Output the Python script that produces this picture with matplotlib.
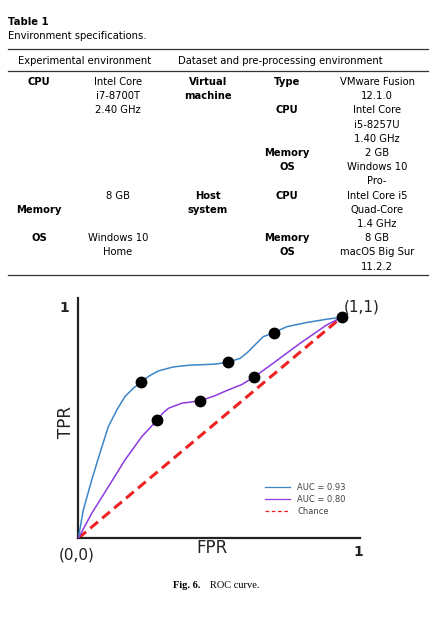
import matplotlib
matplotlib.use("Agg")
import matplotlib.pyplot as plt
from matplotlib.lines import Line2D

# ROC curve points (FPR, TPR)
blue_fpr = [0.0, 0.019, 0.051, 0.082, 0.114, 0.146, 0.177, 0.209, 0.238, 0.270,
            0.304, 0.360, 0.420, 0.462, 0.520, 0.570, 0.614, 0.640, 0.664, 0.702,
            0.743, 0.791, 0.867, 0.943, 1.0]
blue_tpr = [0.0, 0.128, 0.264, 0.385, 0.505, 0.580, 0.641, 0.679, 0.706, 0.735,
            0.757, 0.775, 0.783, 0.785, 0.788, 0.797, 0.814, 0.838, 0.867, 0.912,
            0.930, 0.957, 0.976, 0.991, 1.0]
purple_fpr = [0.0, 0.051, 0.114, 0.177, 0.241, 0.300, 0.320, 0.342, 0.393, 0.462,
              0.519, 0.563, 0.620, 0.667, 0.740, 0.842, 0.943, 1.0]
purple_tpr = [0.0, 0.113, 0.233, 0.354, 0.460, 0.535, 0.565, 0.588, 0.611, 0.622,
              0.645, 0.668, 0.695, 0.729, 0.792, 0.882, 0.965, 1.0]
chance = [0.0, 1.0]

# highlighted thresholds
dot_fpr = [0.238, 0.570, 0.743, 1.0, 0.300, 0.462, 0.667]
dot_tpr = [0.706, 0.797, 0.930, 1.0, 0.535, 0.622, 0.729]

legend_labels = ['AUC = 0.93', 'AUC = 0.80', 'Chance']

# table contents: (text, line number)
col1 = [('CPU', 0), ('Memory', 9), ('OS', 11)]
col2 = [('Intel Core', 0), ('i7-8700T', 1), ('2.40 GHz', 2), ('8 GB', 8),
        ('Windows 10', 11), ('Home', 12)]
col3 = [('Virtual', 0), ('machine', 1), ('Host', 8), ('system', 9)]
col4 = [('Type', 0), ('CPU', 2), ('Memory', 5), ('OS', 6), ('CPU', 8),
        ('Memory', 11), ('OS', 12)]
col5 = [('VMware Fusion', 0), ('12.1.0', 1), ('Intel Core', 2), ('i5-8257U', 3),
        ('1.40 GHz', 4), ('2 GB', 5), ('Windows 10', 6), ('Pro-', 7),
        ('Intel Core i5', 8), ('Quad-Core', 9), ('1.4 GHz', 10), ('8 GB', 11),
        ('macOS Big Sur', 12), ('11.2.2', 13)]

W, H = 445, 618
fig = plt.figure(figsize=(W / 100, H / 100), dpi=100)
fig.patch.set_facecolor('white')

# page axes in pixel coordinates for the table and captions
pg = fig.add_axes([0, 0, 1, 1])
pg.set_xlim(0, W)
pg.set_ylim(H, 0)
pg.axis('off')

fs = 7.2
pg.text(8, 22, 'Table 1', fontsize=7.2, fontweight='bold', va='center')
pg.text(8, 36, 'Environment specifications.', fontsize=fs, va='center')
for yy in [49, 71, 275]:
    pg.plot([8, 428], [yy, yy], color='#333333', lw=0.9)
pg.text(85, 60.5, 'Experimental environment', fontsize=fs, ha='center', va='center')
pg.text(280, 60.5, 'Dataset and pre-processing environment', fontsize=fs,
        ha='center', va='center')

cols = [(39, col1, 'bold'), (118, col2, 'normal'), (208, col3, 'bold'),
        (287, col4, 'bold'), (377, col5, 'normal')]
for cx, items, wt in cols:
    for txt, ln in items:
        pg.text(cx, 82 + ln * 14.2, txt, fontsize=fs, fontweight=wt,
                ha='center', va='center')

pg.text(173, 585, 'Fig. 6.', fontsize=7.5, fontweight='bold', family='Liberation Serif',
        ha='left', va='center')
pg.text(210, 585, 'ROC curve.', fontsize=7.5, family='Liberation Serif',
        ha='left', va='center')

# ROC plot
ax = fig.add_axes([78.3 / W, (H - 538.3) / H, 281.8 / W, 240.3 / H])
ax.set_xlim(0, 1.07)
ax.set_ylim(0, 1.087)
ax.patch.set_alpha(0)
for s in ['top', 'right']:
    ax.spines[s].set_visible(False)
for s in ['left', 'bottom']:
    ax.spines[s].set_linewidth(1.6)
    ax.spines[s].set_color('#222222')
ax.set_xticks([])
ax.set_yticks([])

ax.plot(chance, chance, color='#ee2222', lw=2.2, ls=(0, (3.3, 1.8)), zorder=2)
ax.plot(blue_fpr, blue_tpr, color='#3a86c8', lw=1.1, zorder=3,
        solid_joinstyle='round')
ax.plot(purple_fpr, purple_tpr, color='#8e3ae0', lw=1.1, zorder=3,
        solid_joinstyle='round')
ax.plot(dot_fpr, dot_tpr, 'o', color='black', markersize=7.5, zorder=4)

handles = [Line2D([], [], color='#3a86c8', lw=0.9),
           Line2D([], [], color='#8e3ae0', lw=0.9),
           Line2D([], [], color='#ee2222', lw=0.9, ls=(0, (3, 2)))]
ax.legend(handles, legend_labels, loc='lower right', bbox_to_anchor=(0.975, 0.06),
          frameon=False, fontsize=6, handlelength=3, labelspacing=0.4,
          labelcolor='#444444')

pg.text(64, 308, '1', fontsize=10, fontweight='bold', ha='center', va='center', color='#222222')
pg.text(358, 552, '1', fontsize=10, fontweight='bold', ha='center', va='center', color='#222222')
pg.text(77, 555, '(0,0)', fontsize=11, ha='center', va='center', color='#222222')
pg.text(362, 307, '(1,1)', fontsize=11, ha='center', va='center', color='#222222')
pg.text(212, 548, 'FPR', fontsize=12, ha='center', va='center', color='#222222')
pg.text(66, 422, 'TPR', fontsize=12, rotation=90, ha='center', va='center', color='#222222')

fig.savefig('out.png', dpi=100)
